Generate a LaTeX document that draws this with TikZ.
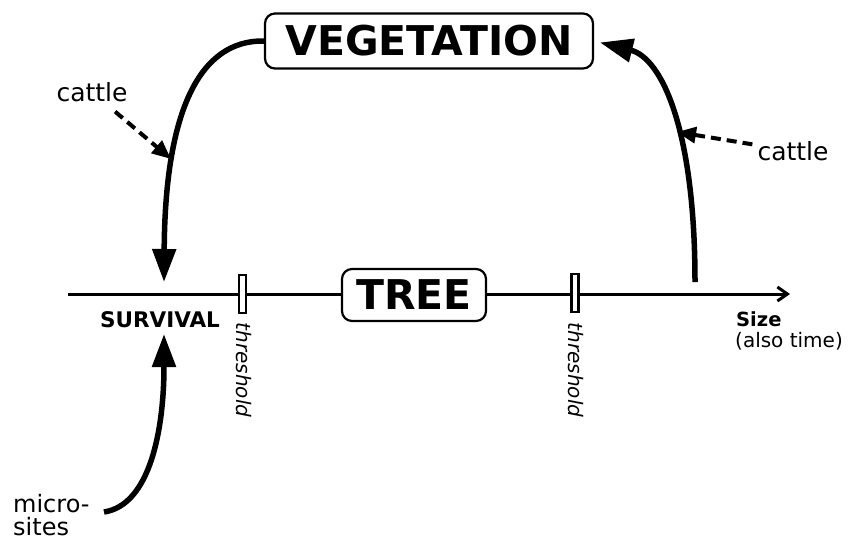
\documentclass[tikz,border=0pt]{standalone}
\usepackage{fontspec}
\setmainfont{DejaVu Sans}
\usetikzlibrary{arrows.meta, positioning, calc}

\begin{document}
\begin{tikzpicture}[
    x=1pt, y=-1pt,
    title/.style={rectangle, draw, line width=2.2pt, rounded corners=10pt, fill=white, inner sep=0pt, font=\fontsize{41}{44}\selectfont\bfseries},
    tick/.style={rectangle, draw, line width=2.2pt, fill=white, inner sep=0pt, minimum width=7pt, minimum height=38pt},
    thr/.style={rotate=-90, inner sep=0pt, font=\fontsize{20}{22}\selectfont\itshape},
    lbl/.style={inner sep=0pt, font=\fontsize{25}{23}\selectfont},
    axis/.style={line width=3pt, -{Straight Barb[length=10pt, width=14pt]}},
    bigarrow/.style={line width=5.5pt, -{Triangle[length=33pt, width=23pt]}},
    graze/.style={line width=4pt, dash pattern=on 10pt off 6pt, -{Triangle[length=19pt, width=16pt]}}
]
\useasboundingbox (0,0) rectangle (849,544);

% Axis
\coordinate (axstart) at (68,294);
\coordinate (axend) at (790,294);
\draw[axis] (axstart) -- (axend);

% Nodes
\node[title, minimum width=328pt, minimum height=55pt] (veg) at (429,41) {VEGETATION};
\node[title, minimum width=144pt, minimum height=52pt] (tree) at (414,295) {TREE};
\node[tick] (tick1) at (242.5,294) {};
\node[tick] (tick2) at (575,293) {};
\node[thr] (thr1) at (244,370) {threshold};
\node[thr] (thr2) at (576,370) {threshold};
\node[inner sep=0pt, font=\fontsize{21.5}{23}\selectfont\bfseries] (surv) at (160,320) {SURVIVAL};
\node[anchor=base west, inner sep=0pt, font=\fontsize{19.5}{21}\selectfont\bfseries] (size) at (736,326) {Size};
\node[anchor=base west, inner sep=0pt, font=\fontsize{20}{21}\selectfont] (alsotime) at (735,347) {(also time)};
\node[lbl] (cattleL) at (92,92) {cattle};
\node[lbl] (cattleR) at (793,151) {cattle};
\node[lbl, anchor=north west, align=left, font=\fontsize{24}{23}\selectfont] (micro) at (13,494) {micro-\\sites};

% Points on the axis and the loops
\coordinate (survtop) at (164,282);
\coordinate (survbot) at (164,334);
\coordinate (sizebase) at (695,282);
\coordinate (microend) at (104,512);
\coordinate (hitL) at (171,159);
\coordinate (hitR) at (677,132);

% Arrows
\draw[bigarrow] (veg.west) .. controls (200,40) and (165,110) .. (survtop);
\draw[bigarrow, shorten >=6pt] (sizebase) .. controls (695,130) and (662,58) .. (veg.east);
\draw[bigarrow] (microend) .. controls (150,505) and (164,430) .. (survbot);
\draw[graze, shorten <=15pt] (cattleL) -- (hitL);
\draw[graze, shorten <=5pt] (cattleR) -- (hitR);

\end{tikzpicture}
\end{document}
